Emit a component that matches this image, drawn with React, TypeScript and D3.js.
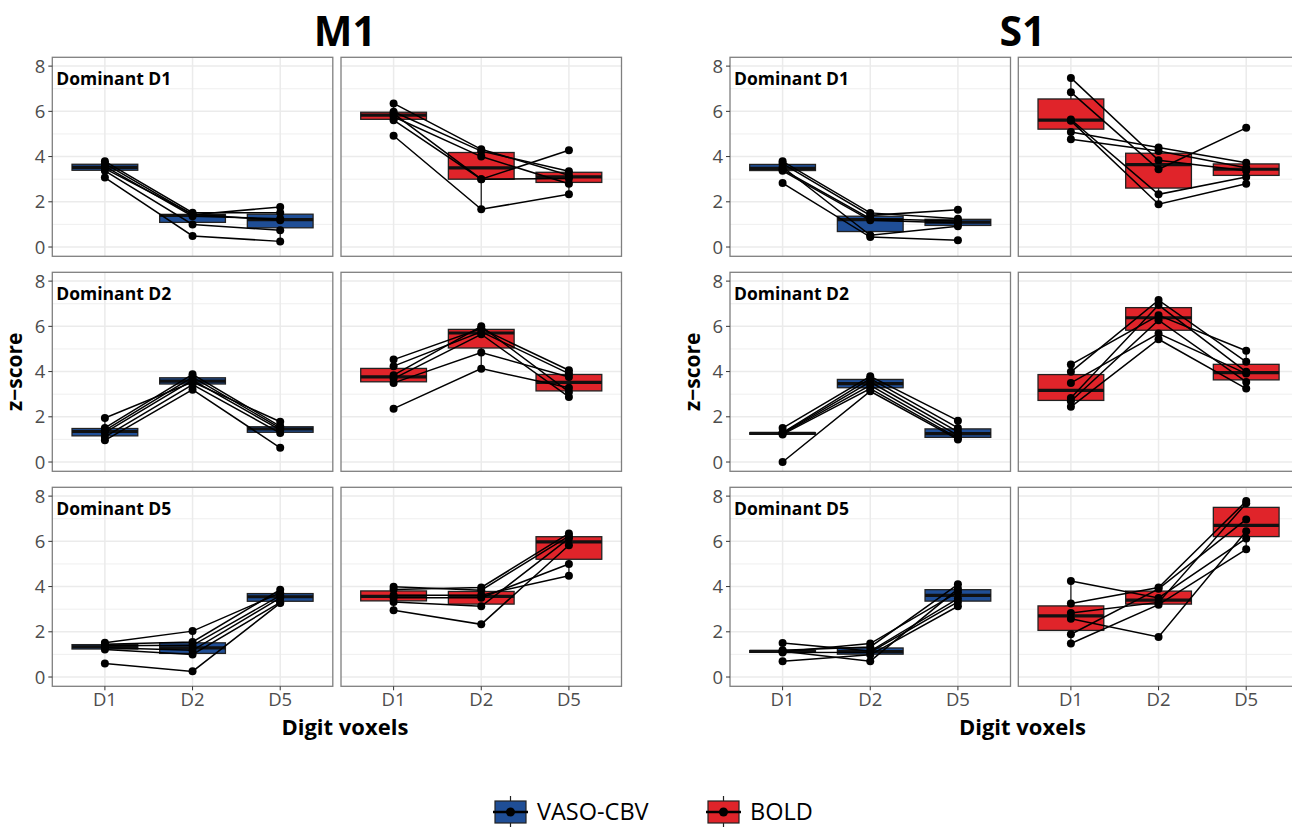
import React from "react";
import * as d3 from "d3";

// digit voxel categories
const digits = ["D1", "D2", "D5"];
const rowLabels = ["Dominant D1", "Dominant D2", "Dominant D5"];
const regions = ["M1", "S1"];
const conditions = ["VASO-CBV", "BOLD"];
const yTicks = [0, 2, 4, 6, 8];
const yMinor = [1, 3, 5, 7];

// one row per subject: [D1, D2, D5] z-scores
const m1VasoDomD1 = [[3.79, 1.52, 1.52], [3.69, 1.43, 1.77], [3.57, 1.36, 1.25], [3.47, 1.45, 1.18], [3.37, 1.0, 0.74], [3.07, 0.49, 0.25]];
const m1BoldDomD1 = [[6.35, 4.32, 3.17], [5.98, 4.24, 3.35], [5.9, 3.0, 4.28], [5.76, 4.0, 2.8], [5.61, 3.0, 3.03], [4.92, 1.67, 2.33]];
const s1VasoDomD1 = [[3.79, 1.51, 1.25], [3.69, 1.4, 1.65], [3.54, 0.52, 0.92], [3.42, 1.25, 1.15], [3.37, 1.18, 1.06], [2.83, 0.44, 0.3]];
const s1BoldDomD1 = [[7.48, 3.84, 3.37], [6.85, 3.44, 5.27], [5.64, 2.33, 3.1], [5.58, 1.89, 2.8], [5.09, 4.4, 3.73], [4.77, 4.25, 3.51]];

const m1VasoDomD2 = [[1.95, 3.54, 1.78], [1.51, 3.88, 1.58], [1.4, 3.76, 1.5], [1.3, 3.62, 1.42], [1.11, 3.42, 1.28], [0.96, 3.2, 0.63]];
const m1BoldDomD2 = [[4.53, 5.9, 4.06], [4.24, 5.76, 3.91], [3.84, 6.0, 3.1], [3.69, 5.65, 2.88], [3.5, 4.84, 3.76], [2.36, 4.13, 3.28]];
const s1VasoDomD2 = [[1.5, 3.79, 1.83], [1.3, 3.69, 1.51], [1.28, 3.54, 1.33], [1.26, 3.39, 1.18], [1.22, 3.25, 1.06], [0.0, 3.13, 1.0]];
const s1BoldDomD2 = [[4.31, 6.49, 4.92], [3.99, 7.16, 4.43], [3.5, 5.68, 3.91], [2.83, 6.94, 3.99], [2.69, 6.27, 3.54], [2.44, 5.43, 3.25]];

const m1VasoDomD5 = [[1.52, 2.03, 3.72], [1.45, 1.55, 3.86], [1.38, 1.4, 3.6], [1.3, 1.18, 3.5], [1.22, 1.0, 3.3], [0.6, 0.25, 3.27]];
const m1BoldDomD5 = [[3.99, 3.84, 6.23], [3.87, 3.96, 6.35], [3.62, 3.62, 4.48], [3.51, 3.51, 5.0], [3.32, 3.13, 6.13], [2.95, 2.33, 5.83]];
const s1VasoDomD5 = [[1.51, 1.15, 3.47], [1.18, 1.33, 4.1], [1.14, 0.7, 3.9], [1.12, 1.48, 3.75], [1.08, 1.1, 3.32], [0.7, 0.98, 3.13]];
const s1BoldDomD5 = [[4.25, 3.5, 6.13], [3.25, 3.96, 7.78], [2.83, 3.3, 7.68], [2.58, 1.77, 6.45], [1.89, 3.9, 6.97], [1.48, 3.2, 5.65]];

// [region][row][condition]
const panels = [
  [[m1VasoDomD1, m1BoldDomD1], [m1VasoDomD2, m1BoldDomD2], [m1VasoDomD5, m1BoldDomD5]],
  [[s1VasoDomD1, s1BoldDomD1], [s1VasoDomD2, s1BoldDomD2], [s1VasoDomD5, s1BoldDomD5]],
];

const colors = { "VASO-CBV": "#1f4e96", BOLD: "#e0242a" };
const font = "'Open Sans', 'Noto Sans', sans-serif";

const W = 1292;
const H = 827;
const panelW = 280.5;
const panelH = 199;
const colLeft = [[52.3, 341], [730, 1018.3]];
const rowTop = [57.3, 272.3, 487.3];

const x = d3.scalePoint().domain(digits).range([0, panelW]).padding(0.6);
const y = d3.scaleLinear().domain([-0.41, 8.39]).range([panelH, 0]);
const boxW = x.step() * 0.75;

function boxStats(vals) {
  const s = vals.slice().sort(d3.ascending);
  const q1 = d3.quantile(s, 0.25);
  const med = d3.quantile(s, 0.5);
  const q3 = d3.quantile(s, 0.75);
  const iqr = q3 - q1;
  const inside = s.filter((v) => v >= q1 - 1.5 * iqr && v <= q3 + 1.5 * iqr);
  return { q1, med, q3, lo: d3.min(inside), hi: d3.max(inside) };
}

const line = d3
  .line()
  .x((d, i) => x(digits[i]))
  .y((d) => y(d));

function Panel({ data, cond, left, top, label, showY, showX }) {
  const fill = colors[cond];
  return (
    <g transform={`translate(${left},${top})`}>
      <rect width={panelW} height={panelH} fill="white" />
      {yMinor.map((t) => (
        <line key={"mn" + t} x1={0} x2={panelW} y1={y(t)} y2={y(t)} stroke="#ebebeb" strokeWidth={0.8} />
      ))}
      {yTicks.map((t) => (
        <line key={"mj" + t} x1={0} x2={panelW} y1={y(t)} y2={y(t)} stroke="#ebebeb" strokeWidth={1.5} />
      ))}
      {digits.map((d) => (
        <line key={"v" + d} x1={x(d)} x2={x(d)} y1={0} y2={panelH} stroke="#ebebeb" strokeWidth={1.5} />
      ))}
      {digits.map((d, i) => {
        const b = boxStats(data.map((s) => s[i]));
        const cx = x(d);
        return (
          <g key={"b" + d}>
            <line x1={cx} x2={cx} y1={y(b.hi)} y2={y(b.q3)} stroke="#222" strokeWidth={1.3} />
            <line x1={cx} x2={cx} y1={y(b.q1)} y2={y(b.lo)} stroke="#222" strokeWidth={1.3} />
            <rect
              x={cx - boxW / 2}
              width={boxW}
              y={y(b.q3)}
              height={Math.max(0.5, y(b.q1) - y(b.q3))}
              fill={fill}
              stroke="#222"
              strokeWidth={1.3}
            />
            <line x1={cx - boxW / 2} x2={cx + boxW / 2} y1={y(b.med)} y2={y(b.med)} stroke="#111" strokeWidth={3.2} />
          </g>
        );
      })}
      {data.map((s, k) => (
        <path key={"l" + k} d={line(s)} fill="none" stroke="#000" strokeWidth={1.5} />
      ))}
      {data.map((s, k) =>
        s.map((v, i) => <circle key={"p" + k + i} cx={x(digits[i])} cy={y(v)} r={4} fill="#000" />)
      )}
      <rect width={panelW} height={panelH} fill="none" stroke="#7f7f7f" strokeWidth={1.3} />
      {label && (
        <text x={4} y={28} fontFamily={font} fontWeight="bold" fontSize={17.5} fill="#000">
          {label}
        </text>
      )}
      {showY &&
        yTicks.map((t) => (
          <g key={"yt" + t}>
            <line x1={-4} x2={0} y1={y(t)} y2={y(t)} stroke="#333" strokeWidth={1} />
            <text x={-7} y={y(t)} dy="0.35em" textAnchor="end" fontFamily={font} fontSize={18.5} fill="#4d4d4d">
              {t}
            </text>
          </g>
        ))}
      {showX &&
        digits.map((d) => (
          <g key={"xt" + d}>
            <line x1={x(d)} x2={x(d)} y1={panelH} y2={panelH + 4} stroke="#333" strokeWidth={1} />
            <text x={x(d)} y={panelH + 20} textAnchor="middle" fontFamily={font} fontSize={18.5} fill="#4d4d4d">
              {d}
            </text>
          </g>
        ))}
    </g>
  );
}

function LegendKey({ x0, cond }) {
  const cx = x0 + 17.5;
  const cy = 812;
  return (
    <g>
      <line x1={cx} x2={cx} y1={cy - 16} y2={cy + 16} stroke="#222" strokeWidth={1.2} />
      <rect x={x0 + 2} y={cy - 11} width={31} height={22} fill={colors[cond]} stroke="#222" strokeWidth={1.2} />
      <line x1={x0} x2={x0 + 35} y1={cy} y2={cy} stroke="#000" strokeWidth={2.5} />
      <circle cx={cx} cy={cy} r={4.5} fill="#000" />
    </g>
  );
}

export default function App() {
  return (
    <svg width={W} height={H} style={{ position: "absolute", left: 0, top: 0 }}>
      <rect width={W} height={H} fill="white" />
      {regions.map((reg, r) => {
        const left0 = colLeft[r][0];
        const right1 = colLeft[r][1] + panelW;
        const mid = (left0 + right1) / 2 + 8;
        return (
          <g key={reg}>
            <text x={mid} y={46} textAnchor="middle" fontFamily={font} fontWeight="bold" fontSize={41} fill="#000">
              {reg}
            </text>
            {rowLabels.map((lab, ri) =>
              conditions.map((cond, ci) => (
                <Panel
                  key={reg + ri + ci}
                  data={panels[r][ri][ci]}
                  cond={cond}
                  left={colLeft[r][ci]}
                  top={rowTop[ri]}
                  label={ci === 0 ? lab : null}
                  showY={ci === 0}
                  showX={ri === 2}
                />
              ))
            )}
            <text
              transform={`translate(${left0 - 30},${rowTop[1] + panelH / 2}) rotate(-90)`}
              textAnchor="middle"
              fontFamily={font}
              fontWeight="bold"
              fontSize={21}
              fill="#000"
            >
              z−score
            </text>
            <text x={mid} y={735} textAnchor="middle" fontFamily={font} fontWeight="bold" fontSize={22} fill="#000">
              Digit voxels
            </text>
          </g>
        );
      })}
      <LegendKey x0={493} cond="VASO-CBV" />
      <text x={537} y={812} dy="0.35em" fontFamily={font} fontSize={23.5} fill="#000">
        VASO-CBV
      </text>
      <LegendKey x0={706} cond="BOLD" />
      <text x={750} y={812} dy="0.35em" fontFamily={font} fontSize={23.5} fill="#000">
        BOLD
      </text>
    </svg>
  );
}
